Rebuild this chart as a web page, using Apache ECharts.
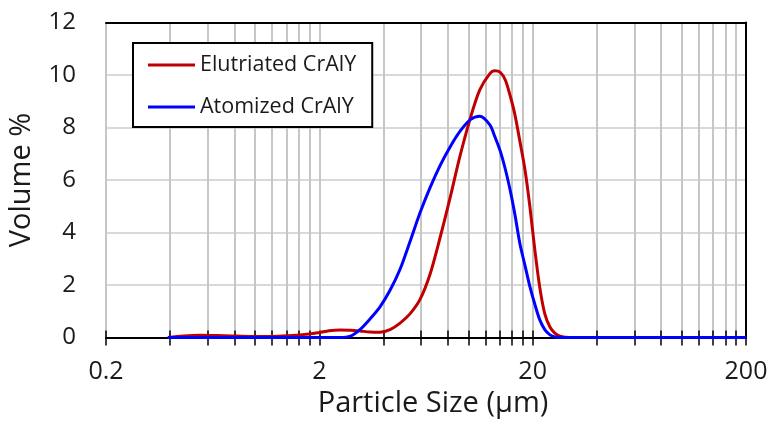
<!DOCTYPE html>
<html>
<head>
<meta charset="utf-8">
<script src="https://cdn.jsdelivr.net/npm/echarts@6/dist/echarts.min.js"></script>
<style>
html,body{margin:0;padding:0;background:#fff;}
#chart{width:769px;height:421px;}
</style>
</head>
<body>
<div id="chart"></div>
<script>
// Particle sizes (µm) and volume %
const sizes = [0.39, 0.46, 0.55, 0.66, 0.78, 0.95, 1.13, 1.35, 1.62, 1.97, 2.22, 2.5, 2.8, 3.1, 3.45, 3.85, 4.29, 4.78, 5.32, 5.93, 6.6, 7.36, 8.19, 9.12, 10.2, 11.3, 12.6, 13.3, 14.1, 14.9, 15.7, 16.5, 17.4, 18.4, 19.4, 20.5, 21.6, 22.8, 24.1, 25.4, 26.9, 29.9, 40, 60, 100, 150, 200];
const elutriated = [0, 0.06, 0.09, 0.08, 0.06, 0.04, 0.04, 0.06, 0.1, 0.18, 0.26, 0.29, 0.28, 0.25, 0.21, 0.2, 0.3, 0.55, 0.9, 1.45, 2.4, 3.8, 5.3, 6.9, 8.35, 9.43, 10.05, 10.16, 10.1, 9.8, 9.2, 8.5, 7.5, 6.4, 5.0, 3.3, 1.9, 0.9, 0.4, 0.17, 0.05, 0, 0, 0, 0, 0, 0];
const atomized = [0, 0, 0, 0, 0, 0, 0, 0, 0, 0, 0, 0, 0.05, 0.3, 0.7, 1.17, 1.8, 2.6, 3.65, 4.75, 5.7, 6.55, 7.25, 7.85, 8.3, 8.43, 8.1, 7.65, 7.1, 6.4, 5.6, 4.7, 3.6, 2.75, 1.95, 1.25, 0.67, 0.3, 0.1, 0.02, 0, 0, 0, 0, 0, 0, 0];
const seriesNames = ['Elutriated CrAlY', 'Atomized CrAlY'];
const xLabelValues = [0.2, 2, 20, 200];
const xGridValues = [0.2, 0.4, 0.6, 0.8, 1, 1.2, 1.4, 1.6, 1.8, 2, 4, 6, 8, 10, 12, 14, 16, 18, 20, 40, 60, 80, 100, 120, 140, 160, 180, 200];

const font = 'Open Sans';
const textColor = '#1a1a1a';
const chart = echarts.init(document.getElementById('chart'));
const pairs = (vals) => sizes.map((s, i) => [s, vals[i]]);
const logAxisBase = { type: 'log', logBase: 10, min: 0.2, max: 200 };

chart.setOption({
  animation: false,
  textStyle: { fontFamily: font },
  grid: { left: 106, right: 23, top: 22.5, bottom: 83.5, containLabel: false, outerBoundsMode: 'none' },
  legend: {
    left: 133, top: 43, orient: 'vertical',
    backgroundColor: '#fff', borderColor: '#000', borderWidth: 2, borderRadius: 0,
    padding: [10, 16, 8, 15],
    icon: 'rect', itemWidth: 47, itemHeight: 3, itemGap: 18,
    textStyle: { fontFamily: font, fontSize: 21.5, color: textColor, lineHeight: 24 },
    data: seriesNames
  },
  xAxis: [
    Object.assign({}, logAxisBase, {
      position: 'bottom',
      name: 'Particle Size (µm)', nameLocation: 'middle', nameGap: 49,
      nameTextStyle: { fontFamily: font, fontSize: 29, color: textColor, padding: [0, 0, 0, 14] },
      axisLine: { show: true, onZero: false, lineStyle: { color: '#000', width: 2 } },
      axisTick: { show: true, customValues: xGridValues, length: 8, lineStyle: { color: '#000', width: 1.5 } },
      axisLabel: { customValues: xLabelValues, fontSize: 25, color: textColor, margin: 22, formatter: (v) => String(v) },
      splitLine: { show: true, lineStyle: { color: '#c6c6c6', width: 2 } },
      minorTick: { show: false }, minorSplitLine: { show: false }
    }),
    Object.assign({}, logAxisBase, {
      position: 'bottom',
      axisLine: { show: false, onZero: false },
      axisTick: { show: true, inside: true, customValues: xGridValues, length: 7, lineStyle: { color: '#000', width: 1.5 } },
      axisLabel: { show: false }, splitLine: { show: false }
    }),
    Object.assign({}, logAxisBase, {
      position: 'top',
      axisLine: { show: true, onZero: false, lineStyle: { color: '#000', width: 2 } },
      axisTick: { show: false }, axisLabel: { show: false }, splitLine: { show: false }
    })
  ],
  yAxis: [
    {
      type: 'value', min: 0, max: 12, interval: 2, position: 'left',
      name: 'Volume %', nameLocation: 'middle', nameGap: 70, nameRotate: 90,
      nameTextStyle: { fontFamily: font, fontSize: 29, color: textColor },
      axisLine: { show: false }, axisTick: { show: false },
      axisLabel: { fontSize: 24, color: textColor, margin: 30 },
      splitLine: { show: true, lineStyle: { color: '#d9d9d9', width: 2 } }
    },
    {
      type: 'value', min: 0, max: 12, interval: 2, position: 'right',
      axisLine: { show: true, lineStyle: { color: '#000', width: 2 } },
      axisTick: { show: false }, axisLabel: { show: false }, splitLine: { show: false }
    }
  ],
  series: [
    {
      name: seriesNames[0], type: 'line', xAxisIndex: 0, yAxisIndex: 0,
      data: pairs(elutriated), showSymbol: false, symbol: 'none', smooth: 0.3,
      lineStyle: { color: '#c00000', width: 3 }, itemStyle: { color: '#c00000' }, z: 3
    },
    {
      name: seriesNames[1], type: 'line', xAxisIndex: 0, yAxisIndex: 0,
      data: pairs(atomized), showSymbol: false, symbol: 'none', smooth: 0.3,
      lineStyle: { color: '#0000ff', width: 3 }, itemStyle: { color: '#0000ff' }, z: 4
    }
  ]
});
</script>
</body>
</html>
